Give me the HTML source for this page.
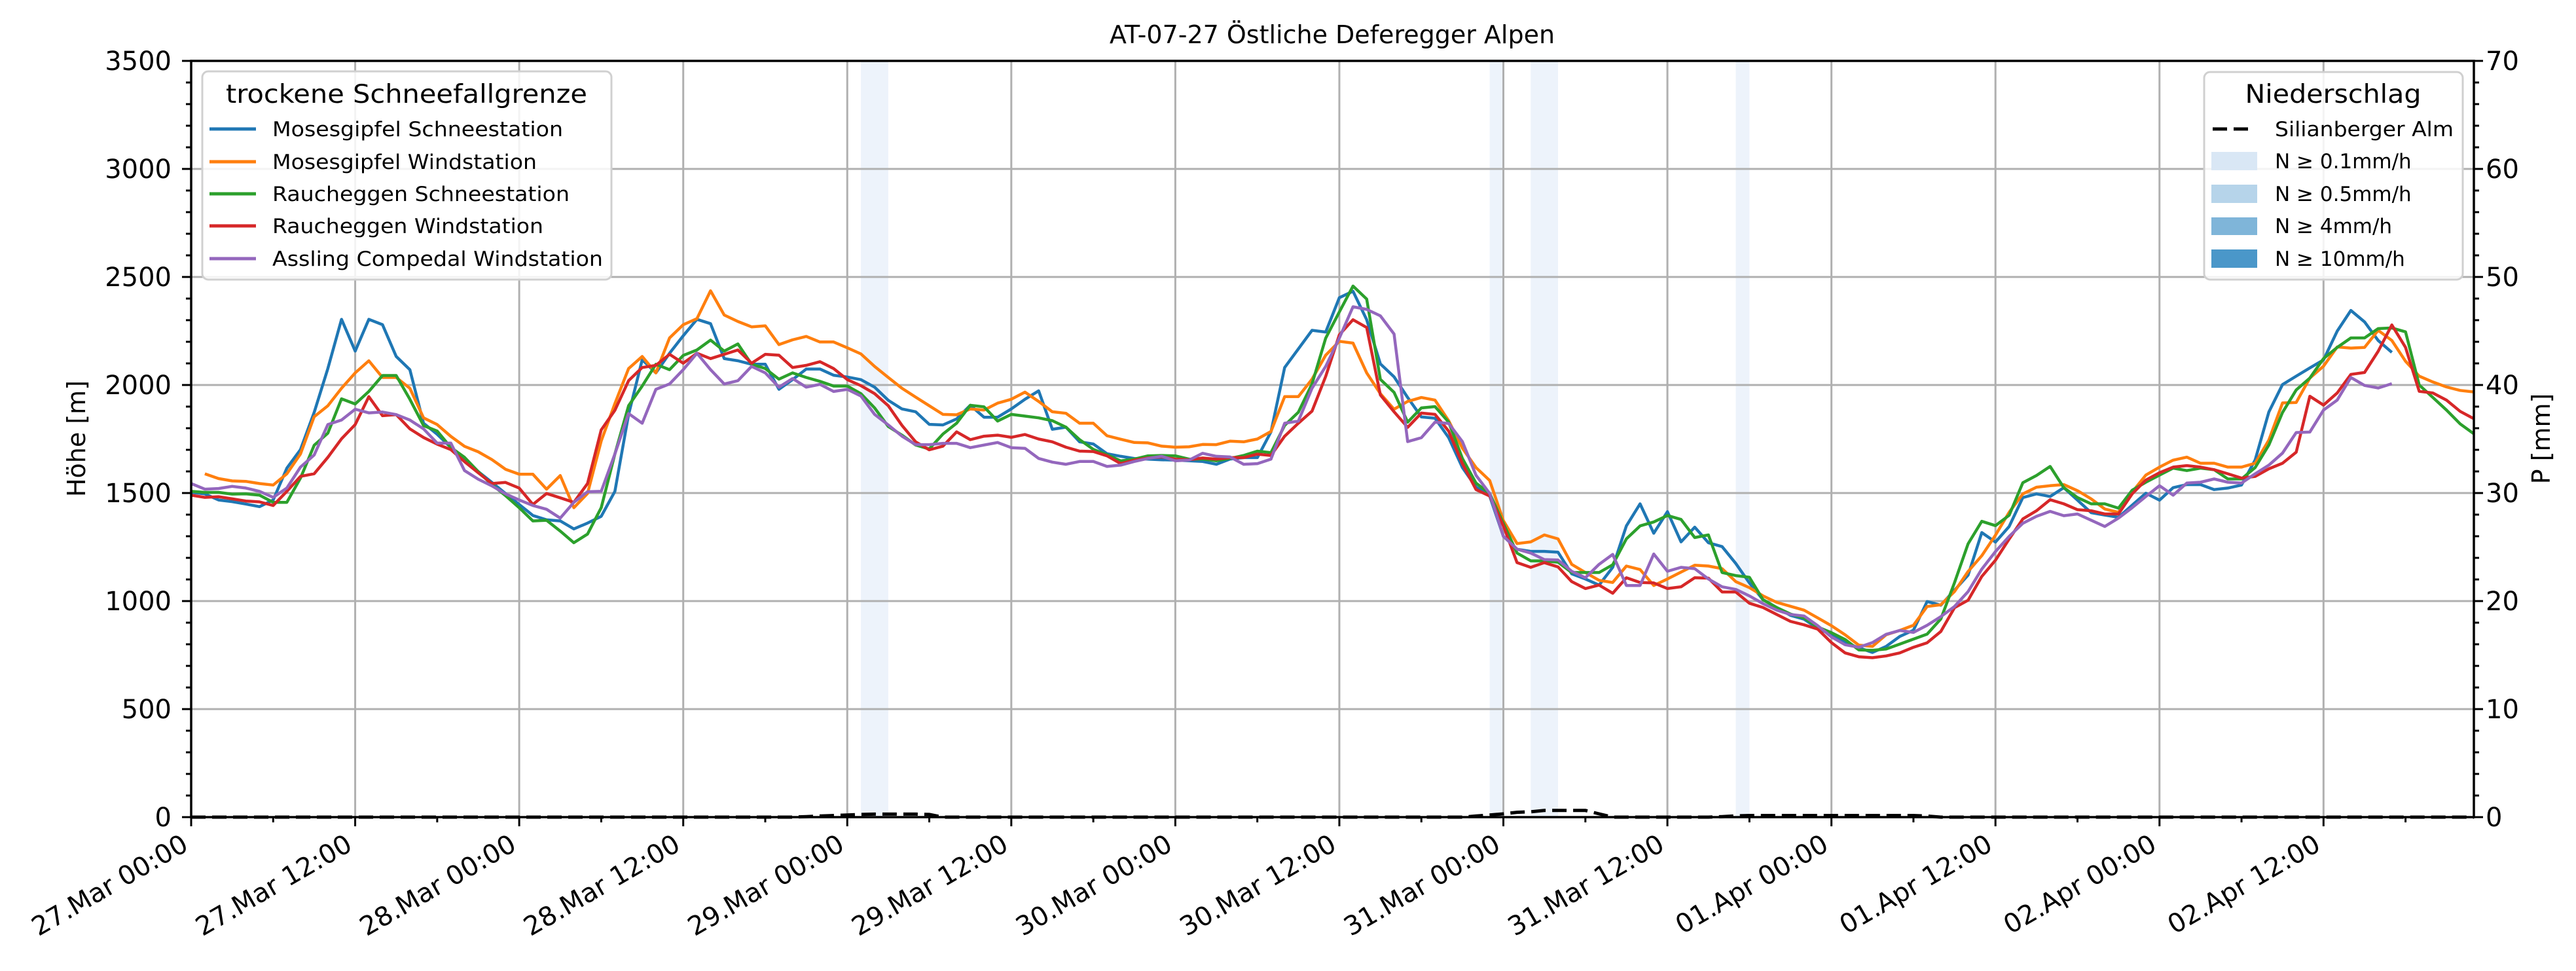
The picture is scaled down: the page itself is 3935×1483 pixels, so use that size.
<!DOCTYPE html>
<html><head><meta charset="utf-8"><style>
html,body{margin:0;padding:0;background:#fff;}
svg{display:block;font-family:"DejaVu Sans","Liberation Sans",sans-serif;}
</style></head><body>
<svg id="chart" width="3935" height="1483" viewBox="0 0 3935 1483" xmlns="http://www.w3.org/2000/svg">
<rect x="0" y="0" width="3935" height="1483" fill="#fff"/>
<g id="bands"></g>
<g id="grid"></g>
<g id="series"></g>
<g id="axes"></g>
<text x="2035" y="66" text-anchor="middle" font-size="38">AT-07-27 Östliche Deferegger Alpen</text>
<text transform="translate(130,670) rotate(-90)" text-anchor="middle" font-size="38">Höhe [m]</text>
<text transform="translate(3895,670) rotate(-90)" text-anchor="middle" font-size="38">P [mm]</text>
<g>
<rect x="309" y="109" width="625" height="318" rx="9" fill="#fff" fill-opacity="0.85" stroke="#d0d0d0" stroke-width="3"/>
<text x="621" y="157" text-anchor="middle" font-size="39" textLength="552" lengthAdjust="spacingAndGlyphs">trockene Schneefallgrenze</text>
<g><line x1="320" x2="391" y1="197" y2="197" stroke="#1f77b4" stroke-width="5"/><text x="416" y="208" font-size="31" textLength="444" lengthAdjust="spacingAndGlyphs">Mosesgipfel Schneestation</text></g>
<g><line x1="320" x2="391" y1="247" y2="247" stroke="#ff7f0e" stroke-width="5"/><text x="416" y="258" font-size="31" textLength="404" lengthAdjust="spacingAndGlyphs">Mosesgipfel Windstation</text></g>
<g><line x1="320" x2="391" y1="296" y2="296" stroke="#2ca02c" stroke-width="5"/><text x="416" y="307" font-size="31" textLength="454" lengthAdjust="spacingAndGlyphs">Raucheggen Schneestation</text></g>
<g><line x1="320" x2="391" y1="345" y2="345" stroke="#d62728" stroke-width="5"/><text x="416" y="356" font-size="31" textLength="414" lengthAdjust="spacingAndGlyphs">Raucheggen Windstation</text></g>
<g><line x1="320" x2="391" y1="395" y2="395" stroke="#9467bd" stroke-width="5"/><text x="416" y="406" font-size="31" textLength="505" lengthAdjust="spacingAndGlyphs">Assling Compedal Windstation</text></g>
</g>
<g>
<rect x="3367" y="110" width="395" height="317" rx="9" fill="#fff" fill-opacity="0.85" stroke="#d0d0d0" stroke-width="3"/>
<text x="3564" y="157" text-anchor="middle" font-size="39" textLength="269" lengthAdjust="spacingAndGlyphs">Niederschlag</text>
<g><line x1="3380" x2="3437" y1="197" y2="197" stroke="#000" stroke-width="5" stroke-dasharray="22,10"/><text x="3475" y="208" font-size="31" textLength="273" lengthAdjust="spacingAndGlyphs">Silianberger Alm</text></g>
<g><rect x="3378" y="232" width="70" height="28" fill="#d9e7f5"/><text x="3475" y="257" font-size="31">N ≥ 0.1mm/h</text></g>
<g><rect x="3378" y="282" width="70" height="28" fill="#b6d4ea"/><text x="3475" y="307" font-size="31">N ≥ 0.5mm/h</text></g>
<g><rect x="3378" y="332" width="70" height="27" fill="#7fb5d9"/><text x="3475" y="356" font-size="31">N ≥ 4mm/h</text></g>
<g><rect x="3378" y="381" width="70" height="28" fill="#4a97c9"/><text x="3475" y="406" font-size="31">N ≥ 10mm/h</text></g>
</g>
</svg>
<script>
const tickLabels = ["27.Mar 00:00","27.Mar 12:00","28.Mar 00:00","28.Mar 12:00","29.Mar 00:00","29.Mar 12:00","30.Mar 00:00","30.Mar 12:00","31.Mar 00:00","31.Mar 12:00","01.Apr 00:00","01.Apr 12:00","02.Apr 00:00","02.Apr 12:00"];
const yTicks = [0,500,1000,1500,2000,2500,3000,3500];
const y2Ticks = [0,10,20,30,40,50,60,70];
const bandStart = [49,95,98,113];
const bandEnd = [51,96,100,114];
const mosesSchnee = [1503,1496,1468,1460,1449,1437,1468,1615,1701,1873,2076,2304,2157,2304,2279,2132,2071,1823,1772,1711,1660,1599,1549,1498,1447,1396,1376,1371,1334,1361,1392,1508,1863,2117,2056,2147,2228,2304,2284,2122,2112,2096,2096,
1980,2025,2074,2074,2045,2037,2025,1990,1929,1889,1876,1818,1815,1843,1906,1851,1851,1889,1934,1973,1795,1805,1737,1727,1682,1670,1660,1657,1654,1652,1649,1646,1633,1657,1664,1664,1783,2081,2167,2253,2245,2404,
2434,2302,2098,2038,1942,1852,1846,1756,1618,1528,1486,1300,1240,1230,1230,1226,1126,1102,1074,1156,1348,1450,1314,1414,1274,1342,1270,1252,1174,1084,1006,970,934,916,874,844,808,784,762,790,
836,865,998,981,1050,1120,1317,1273,1345,1479,1496,1484,1525,1467,1409,1398,1388,1444,1499,1467,1525,1539,1539,1516,1523,1537,1653,1875,2002,2041,2079,2116,2249,2345,2292,2206,2151];
const mosesWind = [null,1589,1567,1556,1554,1544,1537,1589,1681,1853,1904,1985,2056,2112,2035,2035,1985,1848,1817,1762,1716,1691,1655,1610,1587,1587,1518,1581,1432,1498,1741,1914,2076,2132,2056,2218,2279,2307,2436,2324,2294,2269,2274,
2187,2209,2225,2199,2199,2172,2144,2086,2035,1985,1944,1904,1864,1862,1889,1884,1916,1934,1967,1924,1876,1869,1823,1823,1765,1749,1734,1732,1717,1712,1714,1725,1724,1740,1737,1750,1785,1946,1946,2027,2138,2202,
2194,2056,1960,1888,1924,1942,1930,1834,1708,1618,1558,1372,1266,1274,1306,1288,1170,1132,1096,1086,1162,1146,1072,1102,1134,1166,1162,1150,1090,1062,1024,994,976,958,922,886,844,796,790,844,
864,888,975,983,1044,1137,1210,1305,1411,1496,1527,1534,1539,1511,1473,1426,1411,1504,1583,1620,1652,1666,1638,1638,1620,1620,1638,1745,1917,1919,2032,2087,2176,2171,2174,2253,2206,2110,2041,2014,1991,1975,1968];
const rauchSchnee = [1508,1503,1503,1495,1496,1490,1457,1457,1569,1721,1777,1936,1912,1970,2044,2044,1934,1812,1787,1711,1665,1599,1539,1488,1432,1371,1374,1324,1270,1310,1432,1681,1904,1995,2096,2071,2137,2162,2208,2157,2190,2096,2076,
2027,2056,2035,2017,1995,1995,1960,1894,1808,1768,1722,1704,1773,1823,1906,1899,1833,1864,1856,1848,1835,1805,1747,1702,1677,1649,1657,1672,1674,1672,1657,1657,1649,1660,1674,1694,1687,1813,1874,2005,2217,2338,
2458,2398,2026,1966,1828,1894,1900,1828,1660,1546,1498,1360,1222,1186,1186,1180,1132,1132,1132,1168,1288,1348,1366,1396,1378,1294,1306,1132,1118,1110,1006,970,940,922,880,854,822,774,772,778,
801,824,847,917,1085,1265,1369,1349,1397,1548,1581,1623,1525,1479,1450,1450,1430,1513,1550,1583,1615,1604,1615,1608,1565,1565,1618,1722,1873,1977,2032,2122,2174,2218,2218,2261,2264,2246,2000,1942,1884,1820,1774];
const rauchWind = [1490,1480,1483,1473,1463,1459,1442,1508,1577,1589,1665,1751,1817,1946,1858,1863,1797,1757,1726,1701,1645,1594,1544,1549,1523,1447,1498,1478,1457,1544,1792,1883,2020,2081,2091,2142,2101,2147,2122,2142,2162,2101,2142,
2138,2081,2091,2108,2076,2025,1997,1960,1904,1813,1737,1700,1717,1783,1747,1763,1768,1758,1771,1750,1737,1712,1694,1692,1672,1636,1652,1662,1667,1657,1654,1662,1657,1664,1664,1680,1674,1763,1823,1879,2040,2232,
2302,2266,1954,1876,1804,1870,1864,1786,1636,1516,1486,1348,1178,1156,1178,1158,1090,1058,1074,1036,1108,1086,1084,1058,1066,1108,1106,1042,1042,990,970,938,906,890,870,808,760,742,738,746,
760,786,807,859,969,1004,1114,1189,1287,1380,1418,1469,1450,1423,1418,1403,1403,1496,1560,1594,1620,1627,1620,1608,1589,1569,1577,1612,1638,1689,1948,1907,1963,2049,2058,2156,2278,2174,1971,1963,1930,1878,1844];
const assling = [1544,1518,1521,1531,1523,1508,1480,1523,1620,1676,1817,1838,1888,1871,1875,1863,1838,1797,1731,1731,1604,1564,1533,1496,1468,1442,1425,1384,1457,1506,1508,1681,1868,1823,1980,2005,2071,2147,2071,2005,2020,2086,2056,
1990,2030,1990,2003,1970,1980,1949,1864,1815,1763,1724,1724,1730,1730,1710,1722,1734,1710,1707,1660,1643,1633,1646,1646,1623,1629,1646,1660,1670,1649,1652,1684,1670,1667,1633,1636,1657,1823,1833,1985,2086,2217,
2362,2350,2320,2236,1738,1756,1828,1822,1738,1582,1498,1300,1240,1222,1192,1190,1138,1108,1170,1216,1072,1072,1218,1138,1156,1150,1102,1066,1054,1024,988,958,938,931,886,834,798,786,808,846,
864,855,888,928,975,1044,1148,1229,1299,1360,1392,1415,1395,1403,1374,1345,1384,1432,1484,1534,1490,1546,1550,1565,1550,1546,1589,1629,1685,1780,1782,1884,1930,2035,1998,1986,2006];
const precip = [];
for (let h = 0; h < 168; h++) precip.push(0);
const precipBumps = [[45,0.05],[46,0.1],[47,0.15],[48,0.2],[49,0.25],[50,0.28],[51,0.28],[52,0.28],[53,0.28],[54,0.25],
[94,0.1],[95,0.2],[96,0.3],[97,0.45],[98,0.5],[99,0.62],[100,0.62],[101,0.62],[102,0.62],[103,0.3],
[112,0.05],[113,0.12],[114,0.15],[115,0.15],[116,0.15],[117,0.15],[118,0.15],[119,0.15],[120,0.15],[121,0.15],[122,0.15],[123,0.15],[124,0.15],[125,0.15],[126,0.15],[127,0.1]];
precipBumps.forEach(p => { precip[p[0]] = p[1]; });

const NS = "http://www.w3.org/2000/svg";
const X0 = 292, X1 = 3779, Y0 = 1248, Y1 = 93, HMAX = 167;
function xs(h){ return X0 + h * (X1 - X0) / HMAX; }
function ys(v){ return Y0 - v * (Y0 - Y1) / 3500; }
function yp(mm){ return Y0 - mm * (Y0 - Y1) / 70; }
function mk(tag, attrs, parent){ const e = document.createElementNS(NS, tag); for (const k in attrs) e.setAttribute(k, attrs[k]); parent.appendChild(e); return e; }

const gB = document.getElementById('bands');
for (let i = 0; i < bandStart.length; i++) {
  const r = mk('rect', {x: xs(bandStart[i]), y: Y1, width: xs(bandEnd[i]) - xs(bandStart[i]), height: Y0 - Y1, fill: '#edf3fb'}, gB);
  
  
}

const gG = document.getElementById('grid');
tickLabels.forEach((t, i) => {
  const l = mk('line', {x1: xs(i*12), x2: xs(i*12), y1: Y1, y2: Y0, stroke: '#b0b0b0', 'stroke-width': 3}, gG);
  
  
});
yTicks.forEach(v => {
  const l = mk('line', {x1: X0, x2: X1, y1: ys(v), y2: ys(v), stroke: '#b0b0b0', 'stroke-width': 3}, gG);
  
  
});

const gS = document.getElementById('series');
function drawLine(arr, color, name){
  let d = '', pen = false;
  arr.forEach((v, h) => {
    if (v === null || v === undefined) { pen = false; return; }
    d += (pen ? 'L' : 'M') + xs(h).toFixed(1) + ',' + ys(v).toFixed(1);
    pen = true;
  });
  const p = mk('path', {d: d, fill: 'none', stroke: color, 'stroke-width': 4.5, 'stroke-linejoin': 'round'}, gS);
  
  
}
drawLine(mosesSchnee, '#1f77b4', 'line-mosesgipfel-schneestation');
drawLine(mosesWind, '#ff7f0e', 'line-mosesgipfel-windstation');
drawLine(rauchSchnee, '#2ca02c', 'line-raucheggen-schneestation');
drawLine(rauchWind, '#d62728', 'line-raucheggen-windstation');
drawLine(assling, '#9467bd', 'line-assling-compedal-windstation');
let pd = '';
precip.forEach((v, h) => { pd += (h ? 'L' : 'M') + xs(h).toFixed(1) + ',' + yp(v).toFixed(1); });
const pp = mk('path', {d: pd, fill: 'none', stroke: '#000', 'stroke-width': 5, 'stroke-dasharray': '22,10'}, gS);



const gA = document.getElementById('axes');
const frame = mk('rect', {x: X0, y: Y1, width: X1 - X0, height: Y0 - Y1, fill: 'none', stroke: '#000', 'stroke-width': 3.5}, gA);


for (let v = 0; v <= 3500; v += 100) {
  const major = v % 500 === 0;
  const len = major ? 14 : 8;
  const t1 = mk('line', {x1: X0 - len, x2: X0, y1: ys(v), y2: ys(v), stroke: '#000', 'stroke-width': 3}, gA);
  
  
  const t2 = mk('line', {x1: X1, x2: X1 + len, y1: ys(v), y2: ys(v), stroke: '#000', 'stroke-width': 3}, gA);
  
  
}
yTicks.forEach(v => {
  const t = mk('text', {x: 262, y: ys(v) + 14, 'text-anchor': 'end', 'font-size': 40}, gA);
  t.textContent = String(v);
  
  
});
y2Ticks.forEach(v => {
  const t = mk('text', {x: 3797, y: yp(v) + 14, 'text-anchor': 'start', 'font-size': 40}, gA);
  t.textContent = String(v);
  
  
});
for (let h = 0; h <= HMAX; h += 6) {
  const major = h % 12 === 0;
  const len = major ? 14 : 8;
  const t = mk('line', {x1: xs(h), x2: xs(h), y1: Y0, y2: Y0 + len, stroke: '#000', 'stroke-width': 3}, gA);
  
  
}
tickLabels.forEach((lab, i) => {
  const x = xs(i*12) - 2, y = 1297;
  const t = mk('text', {x: x, y: y, 'text-anchor': 'end', 'font-size': 40, transform: 'rotate(-30 ' + x + ' ' + y + ')'}, gA);
  t.textContent = lab;
  
  
});
</script>
</body></html>
